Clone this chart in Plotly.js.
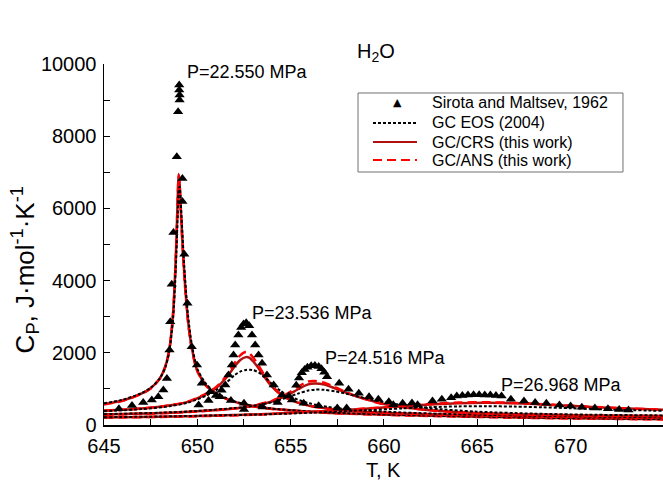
<!DOCTYPE html>
<html>
<head>
<meta charset="utf-8">
<script src="https://cdn.plot.ly/plotly-3.0.1.min.js"></script>
<style>html,body{margin:0;padding:0;background:#fff;}#chart{width:663px;height:481px;}</style>
</head>
<body>
<div id="chart"></div>
<script>
// ---------- data ----------
const pressures = ["P=22.550 MPa", "P=23.536 MPa", "P=24.516 MPa", "P=26.968 MPa"];
const seriesNames = ["Sirota and Maltsev, 1962", "GC EOS (2004)", "GC/CRS (this work)", "GC/ANS (this work)"];

// P = 22.550 MPa
const T1 = [645, 646, 647, 647.5, 648, 648.3, 648.5, 648.7, 648.85, 648.95, 649.0, 649.05, 649.15, 649.3, 649.5, 649.7, 650, 650.5, 651, 651.5, 652, 653, 654, 656, 658, 662, 668, 675];
const crs1 = [580, 680, 870, 1020, 1300, 1650, 2100, 3100, 4700, 6300, 6950, 6700, 5600, 4200, 2900, 2150, 1500, 1080, 870, 740, 640, 520, 450, 370, 320, 260, 200, 160];
const ans1 = [570, 670, 860, 1010, 1290, 1640, 2080, 3050, 4650, 6250, 6900, 6650, 5550, 4150, 2880, 2130, 1490, 1070, 860, 735, 635, 515, 445, 365, 315, 255, 195, 155];
const eos1 = [600, 700, 880, 1030, 1300, 1620, 2050, 2950, 4400, 5800, 6500, 6600, 5800, 4400, 3050, 2250, 1560, 1120, 900, 760, 655, 530, 455, 375, 325, 265, 205, 165];
const expT1 = [645.8, 646.5, 647.1, 647.56, 647.91, 648.18, 648.37, 648.51, 648.55, 648.63, 648.72, 648.9, 648.97, 649.03, 649.03, 649.05, 649.05, 649.2, 649.2, 649.3, 649.47, 649.7, 649.98, 650.24, 650.69, 651.2, 651.8, 652.5];
const expC1 = [450, 540, 620, 692, 785, 970, 1290, 2080, 2860, 3900, 5330, 7430, 8680, 9418, 9280, 9140, 9000, 6830, 6190, 4730, 3370, 2170, 1660, 1155, 922, 780, 680, 600];

// P = 23.536 MPa
const T2 = [645, 647, 648.5, 649.5, 650.5, 651, 651.5, 652, 652.3, 652.6, 652.8, 653, 653.3, 653.6, 654, 654.5, 655, 656, 657, 658, 660, 663, 667, 671, 675];
const crs2 = [400, 460, 540, 640, 860, 1020, 1280, 1620, 1800, 1880, 1860, 1760, 1560, 1330, 1060, 830, 690, 530, 450, 400, 340, 290, 250, 220, 195];
const ans2 = [395, 455, 540, 645, 880, 1050, 1330, 1720, 1930, 2020, 1980, 1860, 1630, 1380, 1090, 845, 700, 535, 455, 400, 340, 290, 250, 220, 195];
const eos2 = [380, 440, 520, 620, 820, 960, 1150, 1380, 1480, 1525, 1530, 1520, 1450, 1330, 1140, 930, 780, 600, 500, 440, 370, 310, 265, 235, 210];
const expT2 = [650.07, 650.6, 651.0, 651.3, 651.5, 651.67, 651.85, 651.94, 652.03, 652.2, 652.35, 652.48, 652.62, 652.78, 652.93, 653.1, 653.28, 653.47, 653.73, 654.09, 654.54, 655.07, 655.7, 656.5, 657.5];
const expC2 = [554, 680, 820, 960, 1108, 1385, 1660, 1940, 2216, 2490, 2700, 2800, 2830, 2750, 2490, 2216, 1940, 1710, 1385, 1108, 831, 692, 600, 530, 470];

// P = 24.516 MPa
const T3 = [645, 648, 650, 652, 653, 654, 654.8, 655.4, 655.9, 656.3, 656.8, 657.4, 658.2, 659, 660, 661, 662.5, 665, 668, 671, 675];
const crs3 = [290, 330, 380, 460, 530, 650, 820, 990, 1120, 1150, 1120, 1010, 850, 720, 580, 500, 410, 330, 290, 265, 250];
const ans3 = [285, 325, 375, 460, 535, 670, 860, 1060, 1200, 1220, 1170, 1040, 860, 720, 575, 495, 405, 325, 285, 260, 245];
const eos3 = [300, 340, 390, 470, 530, 630, 760, 870, 950, 980, 975, 930, 840, 740, 630, 550, 460, 370, 315, 285, 265];
const expT3 = [652.5, 653.5, 654.3, 654.9, 655.3, 655.45, 655.6, 655.75, 655.9, 656.1, 656.3, 656.5, 656.65, 656.8, 656.95, 657.6, 658.1, 658.65, 659.2, 659.7, 660.26, 661, 661.8];
const expC3 = [430, 500, 620, 800, 1100, 1300, 1450, 1540, 1600, 1640, 1650, 1620, 1560, 1460, 1340, 1155, 989, 878, 785, 712, 645, 600, 560];

// P = 26.968 MPa
const T4 = [645, 648, 651, 654, 657, 659, 661, 662.5, 664, 665.5, 667, 668.5, 670, 672, 675];
const crs4 = [210, 230, 260, 310, 390, 450, 520, 570, 605, 615, 600, 570, 530, 480, 420];
const ans4 = [205, 225, 255, 305, 390, 455, 530, 585, 620, 630, 612, 578, 535, 482, 420];
const eos4 = [215, 235, 265, 300, 360, 410, 460, 495, 515, 520, 510, 490, 465, 430, 390];
const expT4 = [658, 660.5, 661.5, 662.6, 663.1, 663.6, 663.9, 664.2, 664.5, 664.8, 665.1, 665.4, 665.7, 666.0, 666.3, 666.8, 667.5, 668.1, 668.7, 669.4, 670.0, 670.6, 671.3, 672.0, 672.6, 673.1];
const expC4 = [470, 560, 610, 665, 712, 756, 800, 820, 830, 835, 835, 832, 828, 815, 800, 712, 665, 620, 600, 554, 525, 490, 470, 450, 430, 415];

// label anchor positions (T, Cp) for pressure annotations
const labelT = [649.35, 652.84, 656.76, 666.15];
const labelC = [9780, 3100, 1855, 1108];

// ---------- style per series ----------
const FONT = 'Arial, Liberation Sans, sans-serif';
const lineStyles = {
  eos: {color: '#000000', width: 2, dash: '3px,2px'},
  crs: {color: '#b01010', width: 2.5, dash: 'solid'},
  ans: {color: '#ff0000', width: 2.5, dash: '9px,5px'}
};

// ---------- traces ----------
const Ts = [T1, T2, T3, T4];
const crs = [crs1, crs2, crs3, crs4];
const ans = [ans1, ans2, ans3, ans4];
const eos = [eos1, eos2, eos3, eos4];
const expT = [expT1, expT2, expT3, expT4];
const expC = [expC1, expC2, expC3, expC4];

const data = [];
for (let i = 0; i < 4; i++) {
  data.push({x: Ts[i], y: crs[i], type: 'scatter', mode: 'lines', name: seriesNames[2] + ' ' + pressures[i],
    showlegend: false, line: Object.assign({shape: 'spline', smoothing: 0.8}, lineStyles.crs)});
  data.push({x: Ts[i], y: ans[i], type: 'scatter', mode: 'lines', name: seriesNames[3] + ' ' + pressures[i],
    showlegend: false, line: Object.assign({shape: 'spline', smoothing: 0.8}, lineStyles.ans)});
  data.push({x: Ts[i], y: eos[i], type: 'scatter', mode: 'lines', name: seriesNames[1] + ' ' + pressures[i],
    showlegend: false, line: Object.assign({shape: 'spline', smoothing: 0.8}, lineStyles.eos)});
}
for (let i = 0; i < 4; i++) {
  data.push({x: expT[i], y: expC[i], type: 'scatter', mode: 'markers', name: seriesNames[0] + ' ' + pressures[i],
    showlegend: false, marker: {symbol: 'triangle-up', size: 9, color: '#000'}});
}

// ---------- annotations ----------
const annotations = pressures.map((p, i) => ({
  x: labelT[i], y: labelC[i], xref: 'x', yref: 'y', text: p, showarrow: false,
  xanchor: 'left', yanchor: 'middle', font: {family: FONT, size: 18, color: '#000'}
}));
annotations.push({
  xref: 'paper', yref: 'paper', x: -0.142, y: 0.43, xanchor: 'center', yanchor: 'middle',
  text: 'C<sub>P</sub>, J·mol<sup>-1</sup>·K<sup>-1</sup>', textangle: -90, showarrow: false,
  font: {family: FONT, size: 26, color: '#000'}
});
annotations.push({
  xref: 'paper', yref: 'paper', x: 0.5, y: -0.124, xanchor: 'center', yanchor: 'middle',
  text: 'T, K', showarrow: false, font: {family: FONT, size: 20, color: '#000'}
});

// hand-built legend (box, samples, labels) in paper coordinates
const legX0 = 0.4544, legX1 = 0.9284, legY0 = 0.7008, legY1 = 0.9197;
const rowY = [0.892, 0.8366, 0.7839, 0.734];
const symX0 = 0.4812, symX1 = 0.5599, symXc = 0.5242, textX = 0.5832;
const shapes = [{type: 'rect', xref: 'paper', yref: 'paper', x0: legX0, x1: legX1, y0: legY0, y1: legY1,
  line: {color: '#707070', width: 1}, fillcolor: '#ffffff', layer: 'above'}];
const legendKeys = [null, 'eos', 'crs', 'ans'];
legendKeys.forEach((k, r) => {
  if (k) {
    const st = lineStyles[k];
    shapes.push({type: 'line', xref: 'paper', yref: 'paper', x0: symX0, x1: symX1, y0: rowY[r], y1: rowY[r],
      line: {color: st.color, width: 2, dash: st.dash}, layer: 'above'});
  }
  annotations.push({xref: 'paper', yref: 'paper', x: textX, y: rowY[r], xanchor: 'left', yanchor: 'middle',
    text: seriesNames[r], showarrow: false, font: {family: FONT, size: 16, color: '#000'}});
});
annotations.push({xref: 'paper', yref: 'paper', x: symXc, y: rowY[0], xanchor: 'center', yanchor: 'middle',
  text: '▲', showarrow: false, font: {family: 'DejaVu Sans, sans-serif', size: 11, color: '#000'}});

const layout = {
  width: 663, height: 481,
  margin: {l: 104, r: 0, t: 64, b: 56},
  paper_bgcolor: '#fff', plot_bgcolor: '#fff',
  font: {family: FONT, color: '#000'},
  title: {text: 'H<sub>2</sub>O', font: {size: 20, color: '#000'}, x: 0.567, xanchor: 'center', y: 0.895, yanchor: 'middle'},
  showlegend: false,
  xaxis: {range: [645, 674.95], tick0: 645, dtick: 5, ticks: 'inside', ticklen: 6, tickcolor: '#000',
    showline: true, linecolor: '#000', linewidth: 1.5, showgrid: false, zeroline: false,
    minor: {dtick: 2.5, tick0: 645, ticks: 'inside', ticklen: 6, tickcolor: '#000', showgrid: false},
    tickfont: {size: 20}, ticklabelstandoff: 2},
  yaxis: {range: [0, 10000], dtick: 2000, ticks: 'inside', ticklen: 6, tickcolor: '#000', tickformat: 'd',
    showline: true, linecolor: '#000', linewidth: 1.5, showgrid: false, zeroline: false,
    minor: {dtick: 1000, ticks: 'inside', ticklen: 6, tickcolor: '#000', showgrid: false},
    tickfont: {size: 20}, ticklabelstandoff: 2},
  shapes: shapes,
  annotations: annotations
};

Plotly.newPlot('chart', data, layout, {displayModeBar: false, staticPlot: true});
</script>
</body>
</html>
